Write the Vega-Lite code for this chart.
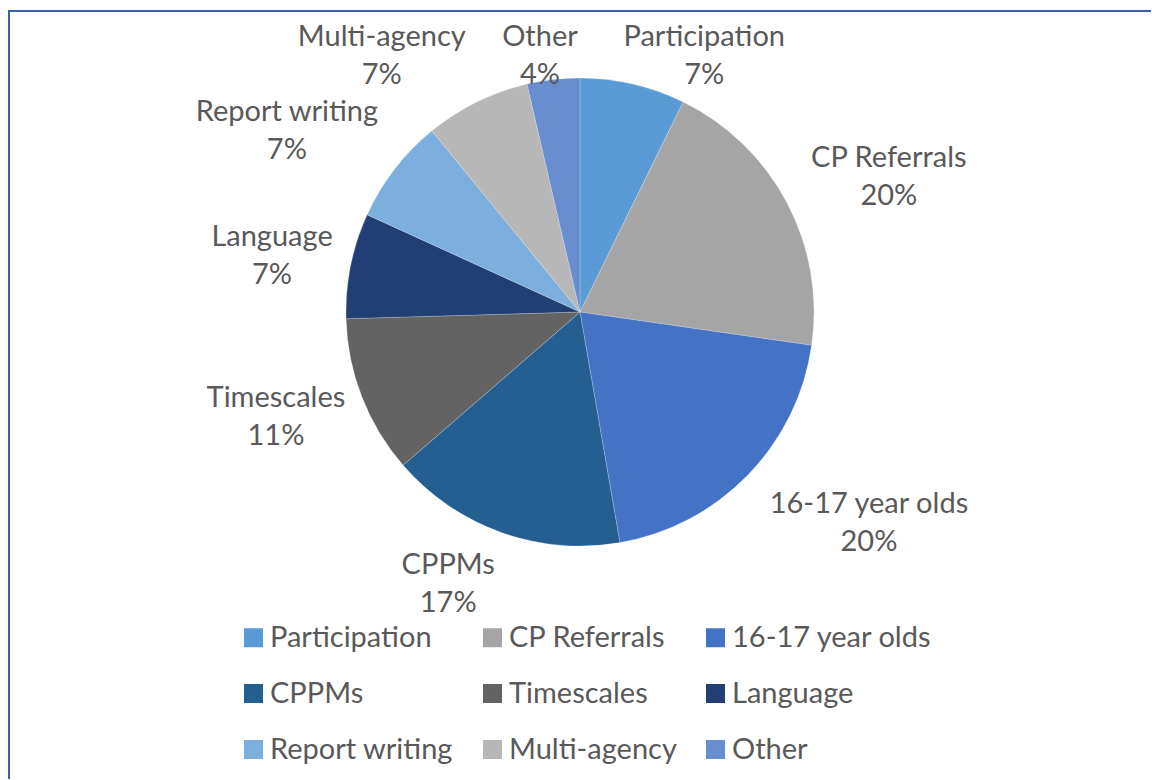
{
  "$schema": "https://vega.github.io/schema/vega-lite/v6.json",
  "autosize": {"type": "pad"},
  "padding": {"left": 8, "top": 10, "right": 0, "bottom": 0},
  "background": "#ffffff",
  "spacing": 0,
  "bounds": "flush",
  "config": {
    "view": {"stroke": null},
    "text": {"font": "Lato", "fontSize": 29, "color": "#595959", "lineHeight": 38, "lineBreak": "\n", "align": "center", "baseline": "middle"},
    "legend": {
      "orient": "none", "legendX": 230, "legendY": 612, "columns": 3, "direction": "horizontal",
      "symbolType": "square", "symbolSize": 361, "symbolStrokeWidth": 0,
      "labelFont": "Lato", "labelFontSize": 29, "labelColor": "#595959", "labelOffset": 2, "labelLimit": 0,
      "columnPadding": 24, "rowPadding": 26, "padding": 0
    }
  },
  "vconcat": [
    {
      "width": 1142,
      "height": 602,
      "view": {"stroke": "#3a5fab", "strokeWidth": 2, "strokeDash": [1142, 1744, 602]},
      "data": {
        "values": [
          {"idx": 1, "cat": "Participation", "value": 4, "label": "Participation\n7%"},
          {"idx": 2, "cat": "CP Referrals", "value": 11, "label": "CP Referrals\n20%"},
          {"idx": 3, "cat": "16-17 year olds", "value": 11, "label": "16-17 year olds\n20%"},
          {"idx": 4, "cat": "CPPMs", "value": 9, "label": "CPPMs\n17%"},
          {"idx": 5, "cat": "Timescales", "value": 6, "label": "Timescales\n11%"},
          {"idx": 6, "cat": "Language", "value": 4, "label": "Language\n7%"},
          {"idx": 7, "cat": "Report writing", "value": 4, "label": "Report writing\n7%"},
          {"idx": 8, "cat": "Multi-agency", "value": 4, "label": "Multi-agency\n7%"},
          {"idx": 9, "cat": "Other", "value": 2, "label": "Other\n4%"}
        ]
      },
      "layer": [
        {
          "mark": {"type": "arc", "radius": 234, "stroke": "#ffffff", "strokeWidth": 0.6, "strokeOpacity": 0.35},
          "encoding": {
            "theta": {"field": "value", "type": "quantitative", "stack": true},
            "order": {"field": "idx", "type": "quantitative"},
            "color": {
              "field": "cat", "type": "nominal", "title": null, "sort": null,
              "scale": {
                "domain": ["Participation", "CP Referrals", "16-17 year olds", "CPPMs", "Timescales", "Language", "Report writing", "Multi-agency", "Other"],
                "range": ["#5b9bd5", "#a5a5a5", "#4472c4", "#255e91", "#636363", "#213f74", "#7cafdd", "#b7b7b7", "#698ed0"]
              }
            }
          }
        },
        {"transform": [{"stack": "value", "groupby": [], "sort": [{"field": "idx", "order": "ascending"}], "as": ["v0", "v1"]}, {"filter": "datum.cat === 'Participation'"}],
         "mark": {"type": "text", "radius": 302, "thetaOffset": 0.424}, "encoding": {"theta": {"field": "v0", "type": "quantitative", "stack": null}, "text": {"field": "label"}}},
        {"transform": [{"stack": "value", "groupby": [], "sort": [{"field": "idx", "order": "ascending"}], "as": ["v0", "v1"]}, {"filter": "datum.cat === 'CP Referrals'"}],
         "mark": {"type": "text", "radius": 345, "thetaOffset": 0.652}, "encoding": {"theta": {"field": "v0", "type": "quantitative", "stack": null}, "text": {"field": "label"}}},
        {"transform": [{"stack": "value", "groupby": [], "sort": [{"field": "idx", "order": "ascending"}], "as": ["v0", "v1"]}, {"filter": "datum.cat === '16-17 year olds'"}],
         "mark": {"type": "text", "radius": 347, "thetaOffset": 0.444}, "encoding": {"theta": {"field": "v0", "type": "quantitative", "stack": null}, "text": {"field": "label"}}},
        {"transform": [{"stack": "value", "groupby": [], "sort": [{"field": "idx", "order": "ascending"}], "as": ["v0", "v1"]}, {"filter": "datum.cat === 'CPPMs'"}],
         "mark": {"type": "text", "radius": 285, "thetaOffset": 0.652}, "encoding": {"theta": {"field": "v0", "type": "quantitative", "stack": null}, "text": {"field": "label"}}},
        {"transform": [{"stack": "value", "groupby": [], "sort": [{"field": "idx", "order": "ascending"}], "as": ["v0", "v1"]}, {"filter": "datum.cat === 'Timescales'"}],
         "mark": {"type": "text", "radius": 316, "thetaOffset": 0.438}, "encoding": {"theta": {"field": "v0", "type": "quantitative", "stack": null}, "text": {"field": "label"}}},
        {"transform": [{"stack": "value", "groupby": [], "sort": [{"field": "idx", "order": "ascending"}], "as": ["v0", "v1"]}, {"filter": "datum.cat === 'Language'"}],
         "mark": {"type": "text", "radius": 317, "thetaOffset": 0.268}, "encoding": {"theta": {"field": "v0", "type": "quantitative", "stack": null}, "text": {"field": "label"}}},
        {"transform": [{"stack": "value", "groupby": [], "sort": [{"field": "idx", "order": "ascending"}], "as": ["v0", "v1"]}, {"filter": "datum.cat === 'Report writing'"}],
         "mark": {"type": "text", "radius": 355, "thetaOffset": 0.171}, "encoding": {"theta": {"field": "v0", "type": "quantitative", "stack": null}, "text": {"field": "label"}}},
        {"transform": [{"stack": "value", "groupby": [], "sort": [{"field": "idx", "order": "ascending"}], "as": ["v0", "v1"]}, {"filter": "datum.cat === 'Multi-agency'"}],
         "mark": {"type": "text", "radius": 339, "thetaOffset": 0.061}, "encoding": {"theta": {"field": "v0", "type": "quantitative", "stack": null}, "text": {"field": "label"}}},
        {"transform": [{"stack": "value", "groupby": [], "sort": [{"field": "idx", "order": "ascending"}], "as": ["v0", "v1"]}, {"filter": "datum.cat === 'Other'"}],
         "mark": {"type": "text", "radius": 278, "thetaOffset": 0.084}, "encoding": {"theta": {"field": "v0", "type": "quantitative", "stack": null}, "text": {"field": "label"}}}
      ]
    },
    {
      "width": 1142,
      "height": 166,
      "view": {"stroke": "#3a5fab", "strokeWidth": 2, "strokeDash": [0, 2450, 166]},
      "data": {"values": []},
      "mark": {"type": "text"},
      "encoding": {}
    }
  ]
}
